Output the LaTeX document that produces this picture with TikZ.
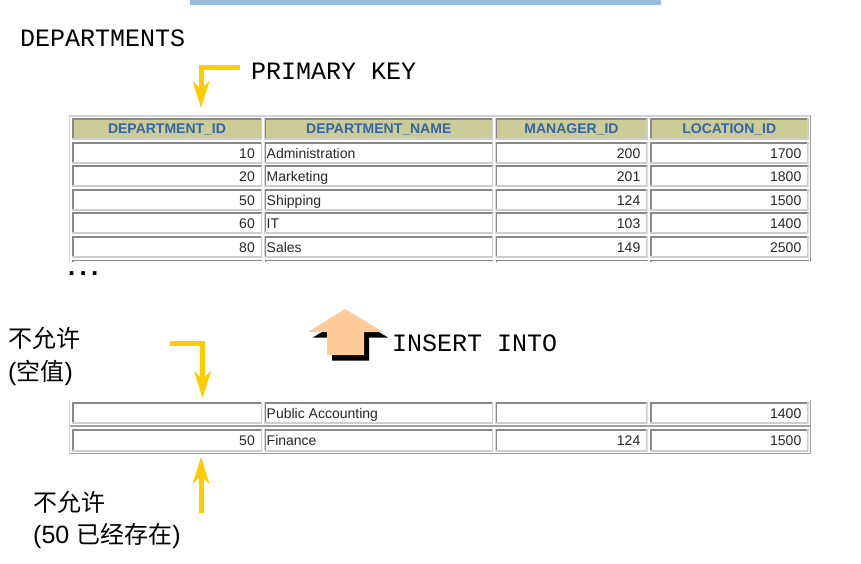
\documentclass[tikz,border=0pt]{standalone}
\usepackage{fontspec}
\setmainfont{Liberation Sans}
\setmonofont{Liberation Mono}
\newfontfamily\cjkfont{Noto Sans CJK SC}
\usetikzlibrary{arrows.meta}

\definecolor{hdrfill}{RGB}{204,204,153}
\definecolor{hdrtext}{RGB}{54,100,160}
\definecolor{ykey}{RGB}{255,204,0}
\definecolor{peach}{RGB}{255,204,153}
\definecolor{barblue}{RGB}{153,187,219}
\definecolor{celldark}{RGB}{136,136,136}
\definecolor{celllight}{RGB}{206,206,206}
\definecolor{framelight}{RGB}{210,210,210}
\definecolor{framedark}{RGB}{160,160,160}

\tikzset{
  cellbox/.style={inner sep=0pt, outer sep=0pt, fill=white,
    path picture={
      \draw[celldark, line width=3pt] (path picture bounding box.south west) -- (path picture bounding box.north west) -- (path picture bounding box.north east);
      \draw[celllight, line width=3pt] (path picture bounding box.north east) -- (path picture bounding box.south east) -- (path picture bounding box.south west);
    }},
  hdrcell/.style={cellbox, fill=hdrfill},
  hdrtxt/.style={anchor=base, inner sep=0pt, font=\fontsize{14}{16}\selectfont\bfseries, text=hdrtext},
  numtxt/.style={anchor=base east, inner sep=0pt, font=\fontsize{14}{16}\selectfont, text=black!85},
  nametxt/.style={anchor=base west, inner sep=0pt, font=\fontsize{14}{16}\selectfont, text=black!85},
  monotxt/.style={anchor=base west, inner sep=0pt, font=\fontsize{25}{30}\selectfont\ttfamily},
  cjktxt/.style={anchor=base west, inner sep=0pt, font=\cjkfont\fontsize{24}{30}\selectfont},
  yarrow/.style={draw=ykey, line width=5pt, line join=miter,
    -{Stealth[length=27pt, width=17pt, inset=8pt, line width=0pt]}},
}

\newcommand\mycell[6]{%
  \node[#6, minimum width={#4-#2}, minimum height={#5-#3}] (#1) at ({(#2+#4)/2},{(#3+#5)/2}) {};}
\newcommand\latin[1]{{\rmfamily\fontsize{25}{30}\selectfont #1}}

\begin{document}
\begin{tikzpicture}[x=1pt,y=-1pt]
\useasboundingbox (0,0) rectangle (861,563);
\fill[white] (0,0) rectangle (861,563);

% top bar
\fill[barblue] (190,0) rectangle (661,4.5);

% titles
\node[monotxt] (title) at (20,46) {DEPARTMENTS};
\node[monotxt] (pklabel) at (251,79) {PRIMARY KEY};

% ---------- main table frame
\draw[framelight, line width=1.5pt] (69.5,262) -- (69.5,116) -- (810.5,116);
\draw[framedark, line width=1.5pt] (810.5,116) -- (810.5,262);

% header
\mycell{h1}{72}{118}{262}{139.5}{hdrcell}
\mycell{h2}{264.5}{118}{493}{139.5}{hdrcell}
\mycell{h3}{495.5}{118}{647.5}{139.5}{hdrcell}
\mycell{h4}{650}{118}{808.5}{139.5}{hdrcell}
\node[hdrtxt] (h1t) at ([yshift=-5pt]h1.center) {DEPARTMENT\_ID};
\node[hdrtxt] (h2t) at ([yshift=-5pt]h2.center) {DEPARTMENT\_NAME};
\node[hdrtxt] (h3t) at ([yshift=-5pt]h3.center) {MANAGER\_ID};
\node[hdrtxt] (h4t) at ([yshift=-5pt]h4.center) {LOCATION\_ID};

% data rows
\foreach \r/\ya/\yb/\id/\nm/\mg/\lc in {
  1/142/163/10/Administration/200/1700,
  2/165.5/186.5/20/Marketing/201/1800,
  3/189/210/50/Shipping/124/1500,
  4/212.5/233.5/60/IT/103/1400,
  5/236/257/80/Sales/149/2500}{
  \mycell{r\r c1}{72}{\ya}{262}{\yb}{cellbox}
  \mycell{r\r c2}{264.5}{\ya}{493}{\yb}{cellbox}
  \mycell{r\r c3}{495.5}{\ya}{647.5}{\yb}{cellbox}
  \mycell{r\r c4}{650}{\ya}{808.5}{\yb}{cellbox}
  \node[numtxt] (r\r t1) at ([xshift=-7pt,yshift=-5.5pt]r\r c1.east) {\id};
  \node[nametxt] (r\r t2) at ([xshift=2pt,yshift=-5.5pt]r\r c2.west) {\nm};
  \node[numtxt] (r\r t3) at ([xshift=-7pt,yshift=-5.5pt]r\r c3.east) {\mg};
  \node[numtxt] (r\r t4) at ([xshift=-7pt,yshift=-5.5pt]r\r c4.east) {\lc};
}
% cut-off next row
\foreach \xa/\xb in {72/262, 264.5/493, 495.5/647.5, 650/808.5}{
  \draw[celldark, line width=1.5pt] (\xa+0.75,262) -- (\xa+0.75,260.5) -- (\xb,260.5);
}

\node[anchor=base west, inner sep=0pt, font=\fontsize{26}{30}\selectfont\bfseries] (dots) at (68,275.5) {.\kern4.3pt.\kern4.3pt.};

% ---------- INSERT arrow
\fill[black, shift={(5,5.5)}] (345,309) -- (383,332) -- (364,332) -- (364,355) -- (327,355) -- (327,332) -- (308,332) -- cycle;
\fill[peach] (345,309) -- (383,332) -- (364,332) -- (364,355) -- (327,355) -- (327,332) -- (308,332) -- cycle;
\node[monotxt] (inslabel) at (392,351) {INSERT INTO};

% ---------- null note
\node[cjktxt] (nulla) at (8,347.5) {不允许};
\node[cjktxt] (nullb) at (8,380) {\latin{(}空值\latin{)}};

% ---------- inserted rows
\draw[framelight, line width=1.5pt] (69.5,426) -- (69.5,400);
\draw[framedark, line width=1.5pt] (69.5,425.8) -- (810.5,425.8) -- (810.5,400);
\draw[framelight, line width=1.5pt] (69.5,453.5) -- (69.5,427);
\draw[framedark, line width=1.5pt] (69.5,453.5) -- (810.5,453.5) -- (810.5,427);

\mycell{a1}{72}{402}{262}{423.5}{cellbox}
\mycell{a2}{264.5}{402}{493}{423.5}{cellbox}
\mycell{a3}{495.5}{402}{647.5}{423.5}{cellbox}
\mycell{a4}{650}{402}{808.5}{423.5}{cellbox}
\node[nametxt] (a2t) at ([xshift=2pt,yshift=-5.5pt]a2.west) {Public Accounting};
\node[numtxt] (a4t) at ([xshift=-7pt,yshift=-5.5pt]a4.east) {1400};

\mycell{b1}{72}{429}{262}{451}{cellbox}
\mycell{b2}{264.5}{429}{493}{451}{cellbox}
\mycell{b3}{495.5}{429}{647.5}{451}{cellbox}
\mycell{b4}{650}{429}{808.5}{451}{cellbox}
\node[numtxt] (b1t) at ([xshift=-7pt,yshift=-5.5pt]b1.east) {50};
\node[nametxt] (b2t) at ([xshift=2pt,yshift=-5.5pt]b2.west) {Finance};
\node[numtxt] (b3t) at ([xshift=-7pt,yshift=-5.5pt]b3.east) {124};
\node[numtxt] (b4t) at ([xshift=-7pt,yshift=-5.5pt]b4.east) {1500};

% ---------- duplicate note
\node[cjktxt] (dupa) at (33,511.5) {不允许};
\node[cjktxt] (dupb) at (33,543.5) {\latin{(50 }已经存在\latin{)}};

% ---------- yellow arrows
\coordinate (pkstart) at (240,67.5);
\coordinate (pktip) at (201,108);
\draw[yarrow] (pkstart) -| (pktip);

\coordinate (nullstart) at (170,343);
\coordinate (nulltip) at (202.5,398);
\draw[yarrow] (nullstart) -| (nulltip);

\coordinate (dupstart) at (201,513);
\coordinate (duptip) at (201,457);
\draw[yarrow] (dupstart) -- (duptip);
\end{tikzpicture}
\end{document}
